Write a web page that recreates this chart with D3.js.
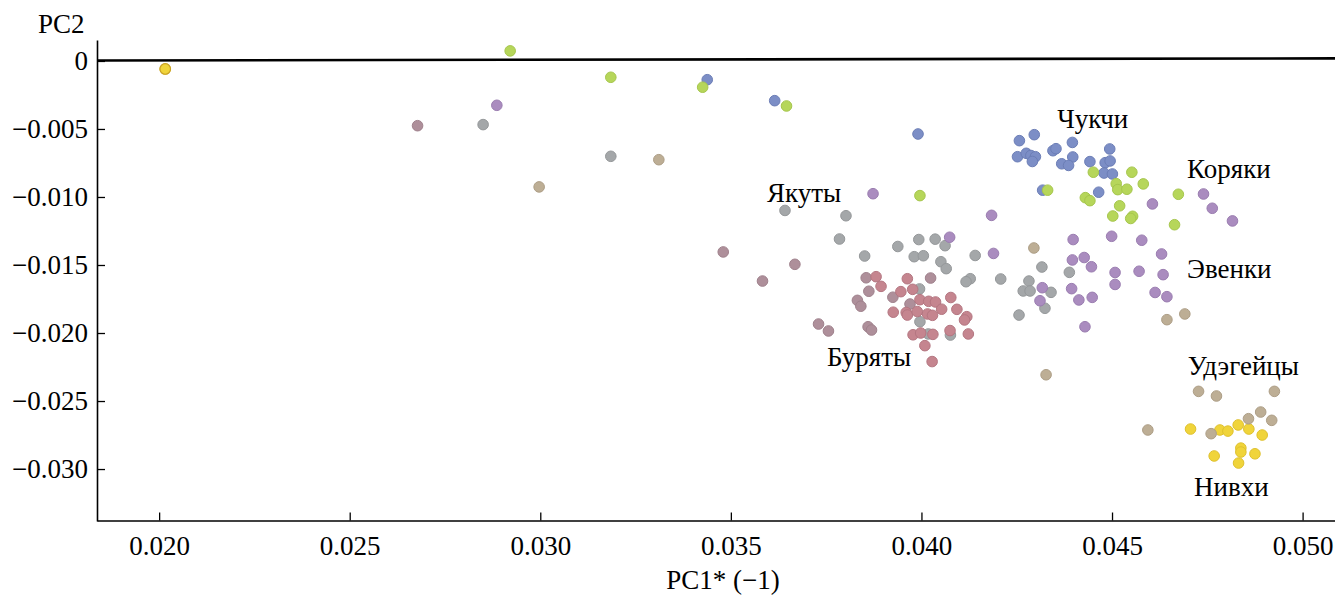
<!DOCTYPE html>
<html><head><meta charset="utf-8">
<script src="https://cdn.jsdelivr.net/npm/d3@7"></script>
<style>
html,body{margin:0;padding:0;background:#fff;}
</style></head>
<body><svg id="chart" width="1335" height="596"></svg>
<script>
// ---- data (PC1*(-1), PC2) ----
const yakuty = [[0.02850,-0.00468],[0.03185,-0.00701],[0.03642,-0.01099],[0.03802,-0.01138],[0.03785,-0.01309],[0.03851,-0.01434],[0.03938,-0.01364],[0.03993,-0.01313],[0.04036,-0.01310],[0.04062,-0.01358],[0.03981,-0.01439],[0.04005,-0.01432],[0.04051,-0.01476],[0.04065,-0.01527],[0.04141,-0.01430],[0.04128,-0.01601],[0.04117,-0.01623],[0.04208,-0.01603],[0.04316,-0.01515],[0.04282,-0.01618],[0.04267,-0.01691],[0.04285,-0.01691],[0.04340,-0.01701],[0.04388,-0.01554],[0.04324,-0.01818],[0.04256,-0.01868],[0.03995,-0.01676],[0.03996,-0.01917],[0.04018,-0.02007],[0.04076,-0.02015]];
const mixed = [[0.02678,-0.00476],[0.03480,-0.01404],[0.03668,-0.01495],[0.03583,-0.01618],[0.03730,-0.01934],[0.03756,-0.01985],[0.03855,-0.01594],[0.03862,-0.01693],[0.03832,-0.01760],[0.03841,-0.01803],[0.03860,-0.01954],[0.03869,-0.01978],[0.03925,-0.01737],[0.04024,-0.01596],[0.03970,-0.01787]];
const buryaty = [[0.03881,-0.01586],[0.03894,-0.01657],[0.03963,-0.01601],[0.03946,-0.01696],[0.03977,-0.01679],[0.03926,-0.01847],[0.03960,-0.01849],[0.03963,-0.01868],[0.03989,-0.01842],[0.03996,-0.01755],[0.04019,-0.01767],[0.04037,-0.01772],[0.04016,-0.01860],[0.04029,-0.01870],[0.04053,-0.01825],[0.04077,-0.01739],[0.04093,-0.01826],[0.04119,-0.01880],[0.04113,-0.01904],[0.03978,-0.02013],[0.03998,-0.02000],[0.04030,-0.02010],[0.04075,-0.01982],[0.04123,-0.02007],[0.04009,-0.02093],[0.04028,-0.02210]];
const evenki = [[0.02886,-0.00326],[0.03873,-0.00976],[0.04074,-0.01296],[0.04184,-0.01135],[0.04189,-0.01415],[0.04740,-0.00978],[0.04763,-0.01083],[0.04816,-0.01176],[0.04606,-0.01051],[0.04499,-0.01289],[0.04578,-0.01318],[0.04630,-0.01419],[0.04398,-0.01313],[0.04396,-0.01463],[0.04427,-0.01445],[0.04446,-0.01513],[0.04508,-0.01555],[0.04571,-0.01546],[0.04634,-0.01571],[0.04508,-0.01643],[0.04394,-0.01674],[0.04413,-0.01757],[0.04448,-0.01738],[0.04613,-0.01702],[0.04644,-0.01733],[0.04317,-0.01667],[0.04311,-0.01763],[0.04429,-0.01954]];
const chukchi = [[0.03438,-0.00138],[0.03615,-0.00292],[0.03991,-0.00537],[0.04257,-0.00586],[0.04296,-0.00542],[0.04252,-0.00704],[0.04275,-0.00679],[0.04287,-0.00695],[0.04299,-0.00704],[0.04291,-0.00739],[0.04345,-0.00660],[0.04353,-0.00645],[0.04396,-0.00599],[0.04397,-0.00706],[0.04368,-0.00756],[0.04386,-0.00768],[0.04442,-0.00740],[0.04494,-0.00647],[0.04482,-0.00748],[0.04495,-0.00735],[0.04479,-0.00824],[0.04501,-0.00831],[0.04465,-0.00965],[0.04318,-0.00950]];
const koryaki = [[0.02921,0.00074],[0.03185,-0.00120],[0.03426,-0.00193],[0.03646,-0.00331],[0.03996,-0.00990],[0.04331,-0.00950],[0.04451,-0.00818],[0.04552,-0.00818],[0.04511,-0.00902],[0.04582,-0.00904],[0.04515,-0.00946],[0.04539,-0.00943],[0.04430,-0.01005],[0.04442,-0.01027],[0.04674,-0.00980],[0.04520,-0.01065],[0.04502,-0.01140],[0.04554,-0.01142],[0.04549,-0.01158],[0.04664,-0.01204]];
const nivkhi = [[0.02016,-0.00059],[0.04706,-0.02706],[0.04783,-0.02713],[0.04804,-0.02721],[0.04831,-0.02676],[0.04859,-0.02706],[0.04894,-0.02750],[0.04768,-0.02904],[0.04838,-0.02846],[0.04838,-0.02875],[0.04875,-0.02888],[0.04832,-0.02956]];
const udegeitsy = [[0.04327,-0.02307],[0.04727,-0.02429],[0.04774,-0.02463],[0.04926,-0.02429],[0.04890,-0.02581],[0.04858,-0.02630],[0.04919,-0.02642],[0.04760,-0.02740],[0.04594,-0.02713],[0.02997,-0.00926],[0.03311,-0.00726],[0.04295,-0.01375],[0.04644,-0.01902],[0.04691,-0.01860]];

const xTicks = [0.020,0.025,0.030,0.035,0.040,0.045,0.050];
const yTicks = [0,-0.005,-0.010,-0.015,-0.020,-0.025,-0.030];
const xDomain = [0.01837,0.05085];
const yDomain = [-0.03382,0.00154];
const zeroLine = [[0.01837,0.00003],[0.05085,0.00019]];
const groupLabels = [
  {text:"Якуты", x:0.03595, y:-0.01037},
  {text:"Чукчи", x:0.04356, y:-0.00493},
  {text:"Коряки", x:0.04697, y:-0.00860},
  {text:"Эвенки", x:0.04697, y:-0.01596},
  {text:"Буряты", x:0.03752, y:-0.02243},
  {text:"Удэгейцы", x:0.04699, y:-0.02309},
  {text:"Нивхи", x:0.04715, y:-0.03199}
];

// ---- drawing ----
const FONT = "'Liberation Serif', 'DejaVu Serif', 'Times New Roman', serif";
const fontSize = "27px";
const svg = d3.select("#chart").style("font-family", FONT);
const x = d3.scaleLinear().domain(xDomain).range([97,1335]);
const y = d3.scaleLinear().domain(yDomain).range([521,40]);

// axes
const xAxis = d3.axisBottom(x).tickValues(xTicks).tickFormat(d3.format(".3f")).tickSizeInner(-8).tickSizeOuter(0).tickPadding(15);
const gx = svg.append("g").attr("transform","translate(0,520.5)").call(xAxis);
gx.attr("font-family", null).style("font-family", FONT);
gx.select(".domain").attr("stroke","#000").attr("stroke-width",1.6);
gx.selectAll(".tick line").attr("stroke","#000").attr("stroke-width",1.3);
gx.selectAll(".tick text").style("font-family",FONT).style("font-size",fontSize).attr("fill","#000");

const yAxis = d3.axisLeft(y).tickValues(yTicks).tickFormat(d=> d===0 ? "0" : d3.format(".3f")(d)).tickSizeInner(-8).tickSizeOuter(0).tickPadding(9);
const gy = svg.append("g").attr("transform","translate(97,0)").call(yAxis);
gy.attr("font-family", null).style("font-family", FONT);
gy.select(".domain").attr("stroke","#000").attr("stroke-width",1.6);
gy.selectAll(".tick line").attr("stroke","#000").attr("stroke-width",1.3);
gy.selectAll(".tick text").style("font-family",FONT).style("font-size",fontSize).attr("fill","#000");

// zero line
svg.append("path")
  .attr("d", d3.line().x(d=>x(d[0])).y(d=>y(d[1]))(zeroLine))
  .attr("stroke","#000").attr("stroke-width",2.6).attr("fill","none");

// points
const groups = [
  {data:yakuty, fill:"#a4a7a9", stroke:"#95989a"},
  {data:mixed, fill:"#ae8f9a", stroke:"#9f818c"},
  {data:buryaty, fill:"#c5858f", stroke:"#b47681"},
  {data:evenki, fill:"#aa8cbf", stroke:"#9a7db0"},
  {data:chukchi, fill:"#7c8ec6", stroke:"#6c7eb6"},
  {data:koryaki, fill:"#b6d65a", stroke:"#a6c64d"},
  {data:nivkhi, fill:"#f0d43a", stroke:"#dfc12e"},
  {data:udegeitsy, fill:"#bdae95", stroke:"#ad9e86"}
];
groups.forEach(g=>{
  svg.append("g").selectAll("circle").data(g.data).join("circle")
    .attr("cx",d=>x(d[0])).attr("cy",d=>y(d[1])).attr("r",5.3)
    .attr("fill",g.fill).attr("stroke",g.stroke).attr("stroke-width",1);
});
// the lone Nivkh sample far left has a darker rim
svg.append("circle").attr("cx",x(nivkhi[0][0])).attr("cy",y(nivkhi[0][1])).attr("r",5.3)
  .attr("fill","#f0d43a").attr("stroke","#c9a227").attr("stroke-width",1.2);

// group labels
svg.append("g").selectAll("text").data(groupLabels).join("text")
  .attr("x",d=>x(d.x)).attr("y",d=>y(d.y))
  .style("font-family",FONT).style("font-size",fontSize).attr("fill","#000").text(d=>d.text);

// axis titles
svg.append("text").attr("x",38).attr("y",33).style("font-family",FONT).style("font-size",fontSize).attr("fill","#000").text("PC2");
svg.append("text").attr("x",723).attr("y",589).attr("text-anchor","middle").style("font-family",FONT).style("font-size",fontSize).attr("fill","#000").text("PC1* (−1)");
</script>
</body></html>
